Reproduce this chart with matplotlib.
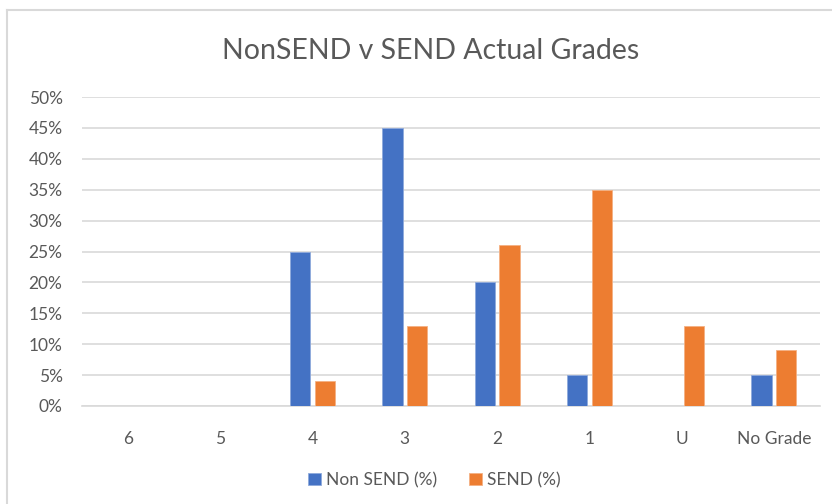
import matplotlib.pyplot as plt
import numpy as np
from matplotlib.lines import Line2D

# data
grades = ['6', '5', '4', '3', '2', '1', 'U', 'No Grade']
non_send = [0, 0, 25, 45, 20, 5, 0, 5]
send = [0, 0, 4, 13, 26, 35, 13, 9]

blue = '#4472C4'
orange = '#ED7D31'
text_col = '#595959'
grid_col = '#D9D9D9'

plt.rcParams['font.family'] = ['Lato', 'DejaVu Sans']

fig = plt.figure(figsize=(8.32, 5.04), dpi=100)
ax = fig.add_axes([82 / 832, 1 - 406 / 504, (820 - 82) / 832, (406 - 97) / 504])

x = np.arange(len(grades))
w = 0.22
ax.bar(x - 0.135, non_send, w, color=blue, edgecolor='#8FAADC', linewidth=0.6, label='Non SEND (%)', zorder=3)
ax.bar(x + 0.135, send, w, color=orange, edgecolor='#F4B183', linewidth=0.6, label='SEND (%)', zorder=3)

ax.set_xlim(-0.5, len(grades) - 0.5)
ax.set_ylim(0, 50)
ax.set_yticks(range(0, 51, 5))
ax.set_yticklabels([f'{v}%' for v in range(0, 51, 5)])
ax.set_xticks(x)
ax.set_xticklabels(grades)
ax.tick_params(axis='both', length=0, colors=text_col, labelsize=12.5)
ax.tick_params(axis='x', pad=18)
ax.tick_params(axis='y', pad=14)
ax.grid(axis='y', color=grid_col, linewidth=1.2, zorder=0)
for s in ['top', 'right', 'left']:
    ax.spines[s].set_visible(False)
ax.spines['bottom'].set_color(grid_col)
ax.spines['bottom'].set_linewidth(1.2)

fig.text(0.517, 1 - 51 / 504, 'NonSEND v SEND Actual Grades', ha='center', va='center',
         fontsize=20.5, color=text_col)

fig.legend(loc='center', bbox_to_anchor=(0.522, 1 - 480 / 504), ncol=2, frameon=False,
           fontsize=12.5, labelcolor=text_col, handlelength=0.75, handleheight=0.75,
           handletextpad=0.3, columnspacing=1.8)

# chart border
fig.add_artist(Line2D([7 / 832, 1], [1 - 10 / 504, 1 - 10 / 504], color=grid_col, linewidth=1.5))
fig.add_artist(Line2D([7 / 832, 7 / 832], [0, 1 - 10 / 504], color=grid_col, linewidth=1.5))

plt.savefig('out.png', dpi=100)
